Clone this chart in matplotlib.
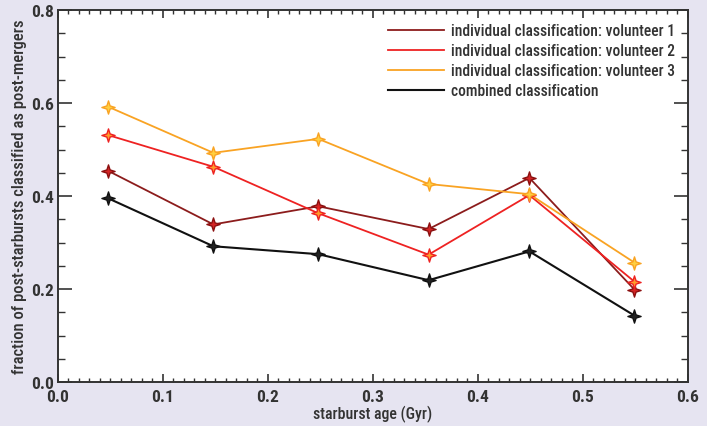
import matplotlib
matplotlib.use("Agg")
import matplotlib.pyplot as plt
from matplotlib.path import Path
from matplotlib.ticker import MultipleLocator, FormatStrFormatter
from matplotlib import font_manager
import numpy as np

# data
age = [0.048, 0.148, 0.248, 0.353, 0.449, 0.549]
vol1 = [0.454, 0.339, 0.378, 0.329, 0.439, 0.199]
vol2 = [0.531, 0.463, 0.363, 0.274, 0.402, 0.216]
vol3 = [0.592, 0.493, 0.523, 0.426, 0.404, 0.257]
combined = [0.395, 0.292, 0.275, 0.219, 0.281, 0.143]
labels = ["individual classification: volunteer 1",
          "individual classification: volunteer 2",
          "individual classification: volunteer 3",
          "combined classification"]

installed = {f.name for f in font_manager.fontManager.ttflist}
prefs = ['Liberation Sans Narrow', 'Nimbus Sans Narrow', 'Roboto Condensed',
         'Archivo Narrow', 'Asap Condensed', 'Barlow Condensed']
narrow = [n for n in prefs if n in installed]
fams = narrow[:1] + ['Liberation Sans', 'DejaVu Sans']
plt.rcParams['font.family'] = fams

# 4-point star marker
r_out, r_in = 1.0, 0.34
verts = []
for k in range(8):
    ang = np.pi / 2 + k * np.pi / 4
    r = r_out if k % 2 == 0 else r_in
    verts.append((r * np.cos(ang), r * np.sin(ang)))
verts.append(verts[0])
codes = [Path.MOVETO] + [Path.LINETO] * 7 + [Path.CLOSEPOLY]
star = Path(verts, codes)

bg = '#e6e4f1'
fig = plt.figure(figsize=(7.07, 4.27), dpi=100, facecolor=bg)
ax = fig.add_axes([0.082, 0.103, 0.891, 0.871])
ax.set_facecolor('white')

series = [
    (vol1, '#8c1c1c', '#d42424', '#8c1010', 1.3),
    (vol2, '#ee2222', '#ff9a2a', '#ee2222', 1.3),
    (vol3, '#f9a323', '#ffd040', '#f9a323', 1.3),
    (combined, '#111111', '#222222', '#111111', 1.5),
]
for (vals, lc, fc, ec, lw), lab in zip(series, labels):
    ax.plot(age, vals, color=lc, lw=lw, label=lab, zorder=3)
    ax.plot(age, vals, linestyle='none', marker=star, markersize=9.5,
            markerfacecolor=fc, markeredgecolor=ec, markeredgewidth=1.0, zorder=4)

ax.set_xlim(0, 0.6)
ax.set_ylim(0, 0.8)
ax.xaxis.set_major_locator(MultipleLocator(0.1))
ax.xaxis.set_minor_locator(MultipleLocator(0.01))
ax.yaxis.set_major_locator(MultipleLocator(0.2))
ax.yaxis.set_minor_locator(MultipleLocator(0.05))
ax.xaxis.set_major_formatter(FormatStrFormatter('%.1f'))
ax.yaxis.set_major_formatter(FormatStrFormatter('%.1f'))

tc = '#333333'
for s in ax.spines.values():
    s.set_color(tc)
    s.set_linewidth(1.4)
ax.tick_params(axis='x', which='major', direction='in', length=6, width=1.2,
               top=True, bottom=True, colors=tc, labelsize=12.5, pad=5)
ax.tick_params(axis='x', which='minor', direction='in', length=3, width=1.0,
               top=True, bottom=True, colors=tc)
ax.tick_params(axis='y', which='major', direction='in', length=10, width=1.2,
               left=True, right=True, colors=tc, labelsize=12.5, pad=3)
ax.tick_params(axis='y', which='minor', direction='in', length=5, width=1.0,
               left=True, right=True, colors=tc)
for lbl in ax.get_xticklabels() + ax.get_yticklabels():
    lbl.set_fontweight('bold')

ax.set_xlabel('starburst age (Gyr)', fontsize=11.4, color=tc, labelpad=1,
              fontweight='medium')
ax.set_ylabel('fraction of post-starbursts classified as post-mergers', fontsize=12,
              color=tc, labelpad=3, fontweight='medium')

leg = ax.legend(loc='upper right', frameon=False, handlelength=3.6,
                handletextpad=0.45, labelspacing=0.32, borderaxespad=0.45,
                prop={'size': 11.2, 'weight': 'medium'})
for t in leg.get_texts():
    t.set_color(tc)

fig.savefig('out.png', dpi=100, facecolor=bg)
